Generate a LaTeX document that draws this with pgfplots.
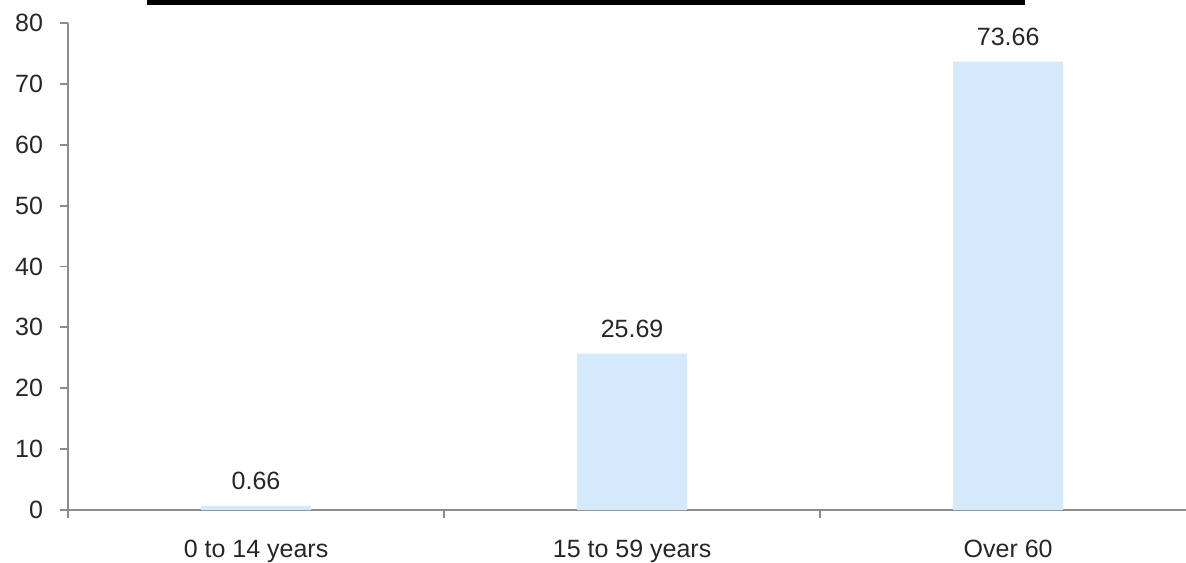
\documentclass[border=0pt]{standalone}
\usepackage{pgfplots}
\pgfplotsset{compat=1.18}
\usepackage{fontspec}
\setmainfont{Liberation Sans}
\definecolor{barblue}{HTML}{D4E9FA}
\definecolor{axgray}{HTML}{8C8C8C}
\begin{document}
\begin{tikzpicture}[x=1bp,y=1bp]
\path[use as bounding box] (0,0) rectangle (593,281);
\begin{axis}[
  at={(34bp,26bp)}, anchor=south west,
  scale only axis,
  width=559bp, height=243.5bp,
  xmin=-0.5, xmax=2.473,
  ymin=0, ymax=80,
  axis x line*=bottom, axis y line*=left,
  axis line style={axgray, line width=0.9bp},
  ytick={0,10,...,80},
  xtick={0,1,2},
  xticklabels={0 to 14 years, 15 to 59 years, Over 60},
  minor xtick={-0.5,0.5,1.5},
  x tick style={draw=none},
  minor x tick style={draw=axgray, line width=0.9bp},
  minor tick length=4bp,
  y tick style={axgray, line width=0.9bp},
  major tick length=4bp,
  tick align=outside,
  every tick label/.append style={font=\fontsize{12.5bp}{14bp}\selectfont, text=black!85},
  /pgf/number format/assume math mode=true,
  yticklabel style={xshift=-5bp},
  xticklabel style={yshift=-7.5bp},
  ybar, bar width=55bp,
  nodes near coords,
  nodes near coords style={font=\fontsize{12.5bp}{14bp}\selectfont, text=black!85, yshift=4.5bp},
  point meta=explicit symbolic,
  clip=false,
]
\addplot[fill=barblue, draw=none] coordinates {(0,0.66) [0.66] (1,25.69) [25.69] (2,73.66) [73.66]};
\end{axis}
\fill[black] (73.5,278.5) rectangle (512.5,281);
\end{tikzpicture}
\end{document}
